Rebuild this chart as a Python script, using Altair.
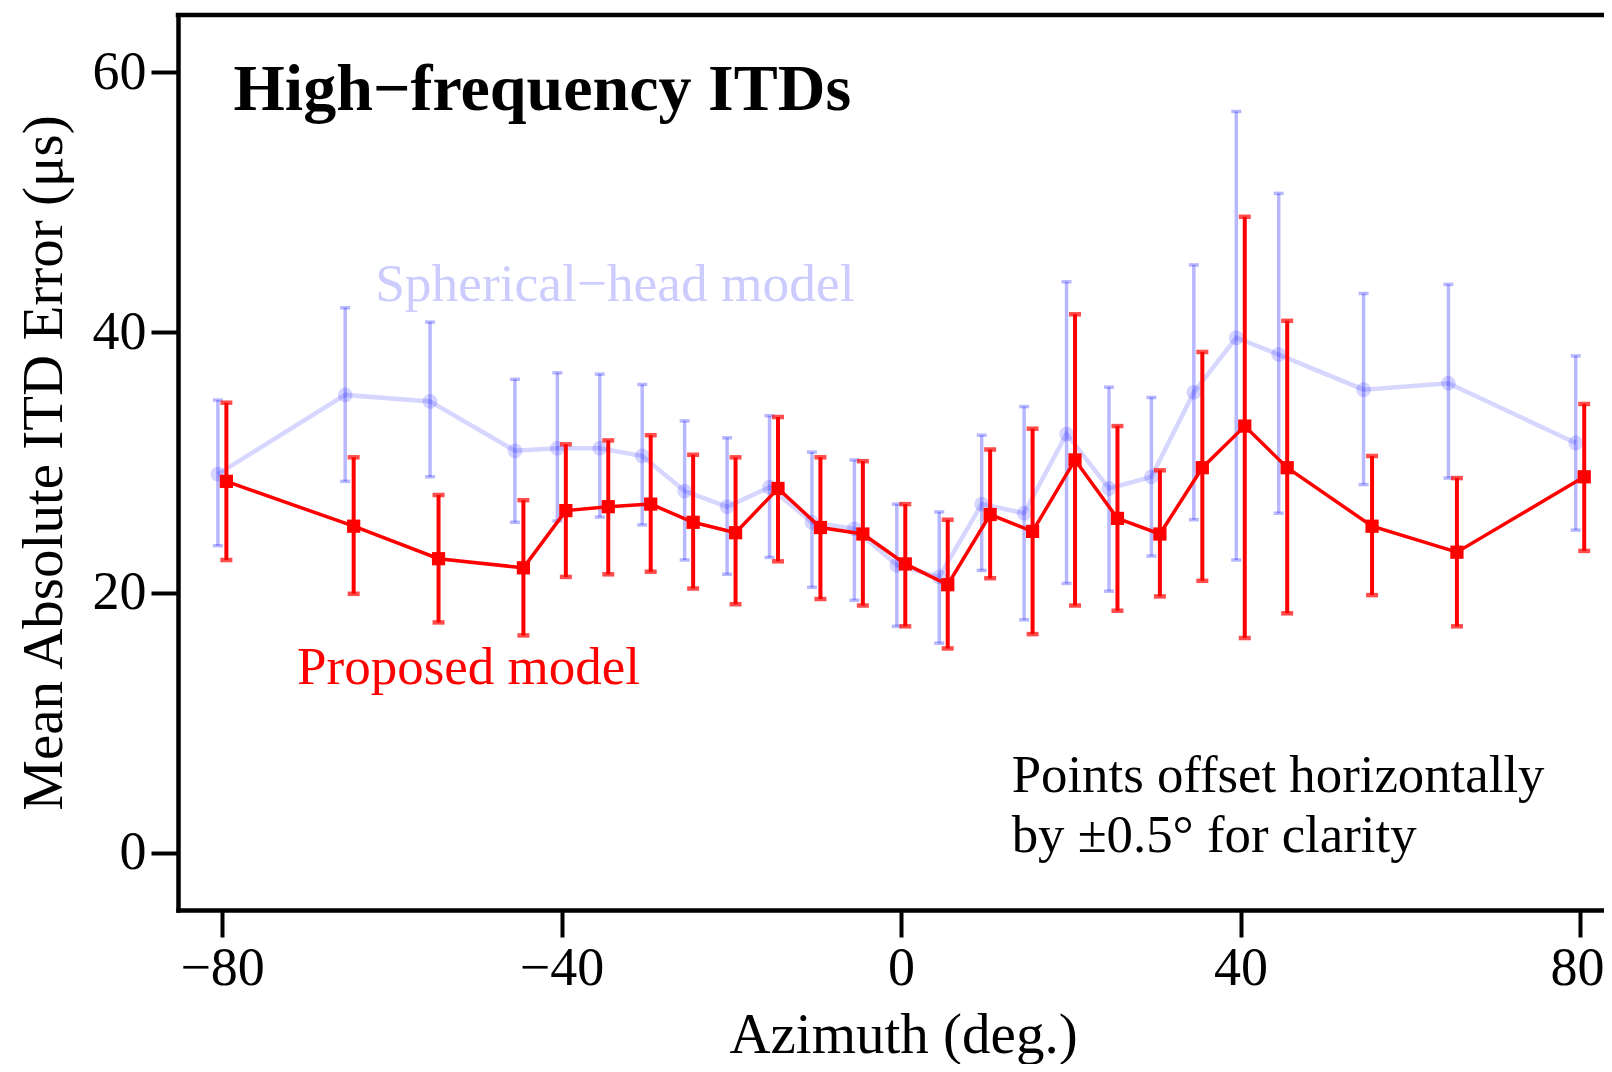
import altair as alt
import pandas as pd

# ---------------- data ----------------
azimuth = [-80, -65, -55, -45, -40, -35, -30, -25, -20, -15, -10, -5, 0,
           5, 10, 15, 20, 25, 30, 35, 40, 45, 55, 65, 80]

proposed_mean = [28.55, 25.1, 22.6, 21.9, 26.3, 26.6, 26.8, 25.4, 24.6, 28.0, 25.0, 24.5, 22.2,
                 20.6, 26.0, 24.7, 30.2, 25.7, 24.5, 29.6, 32.8, 29.6, 25.1, 23.1, 28.9]
proposed_upper = [34.6, 30.4, 27.5, 27.1, 31.4, 31.7, 32.1, 30.6, 30.4, 33.5, 30.4, 30.1, 26.8,
                  25.6, 31.0, 32.6, 41.4, 32.8, 29.4, 38.5, 48.9, 40.9, 30.5, 28.8, 34.5]
proposed_lower = [22.5, 19.9, 17.7, 16.7, 21.2, 21.4, 21.6, 20.3, 19.1, 22.4, 19.5, 19.0, 17.4,
                  15.7, 21.1, 16.8, 19.0, 18.6, 19.7, 20.9, 16.5, 18.4, 19.8, 17.4, 23.2]

spherical_mean = [29.1, 35.2, 34.7, 30.9, 31.1, 31.1, 30.5, 27.8, 26.6, 28.1, 25.4, 24.9, 22.1,
                  21.2, 26.8, 26.1, 32.2, 28.0, 28.9, 35.4, 39.6, 38.3, 35.6, 36.1, 31.5]
spherical_upper = [34.8, 41.9, 40.8, 36.4, 36.9, 36.8, 36.0, 33.2, 31.9, 33.6, 30.8, 30.2, 26.8,
                   26.2, 32.1, 34.3, 43.9, 35.8, 35.0, 45.2, 57.0, 50.7, 43.0, 43.7, 38.2]
spherical_lower = [23.6, 28.55, 28.9, 25.4, 25.5, 25.8, 25.2, 22.5, 21.4, 22.7, 20.4, 19.4, 17.4,
                   16.1, 21.7, 17.9, 20.7, 20.1, 22.8, 25.6, 22.5, 26.1, 28.3, 28.8, 24.8]

x_ticks = [-80, -40, 0, 40, 80]
y_ticks = [0, 20, 40, 60]

title_text = "High\u2212frequency ITDs"
label_spherical = "Spherical\u2212head model"
label_proposed = "Proposed model"
note_lines = ["Points offset horizontally", "by \u00b10.5\u00b0 for clarity"]

# ---------------- tables ----------------
prop = pd.DataFrame({"az": azimuth, "mean": proposed_mean,
                     "lo": proposed_lower, "hi": proposed_upper})
prop["x"] = prop["az"] + 0.5
sph = pd.DataFrame({"az": azimuth, "mean": spherical_mean,
                    "lo": spherical_lower, "hi": spherical_upper})
sph["x"] = sph["az"] - 0.5

W, H = 1426, 895
FONT = "Liberation Serif"
xs = alt.Scale(domain=[-85.2, 82.83], nice=False, zero=False)
ys = alt.Scale(domain=[-4.42, 64.42], nice=False, zero=False)

x_axis = alt.Axis(values=x_ticks, title="Azimuth (deg.)", grid=False,
                  labelFlush=30, labelFlushOffset=24,
                  titleX=725, titleY=142, titleAlign="center", titleBaseline="alphabetic")
y_axis = alt.Axis(values=y_ticks, title="Mean Absolute ITD Error (\u03bcs)", grid=False,
                  titleX=-117, titleY=H / 2, titleAngle=270, titleAlign="center",
                  titleBaseline="alphabetic")


def X(field="x"):
    return alt.X(f"{field}:Q", scale=xs, axis=x_axis)


def Y(field):
    return alt.Y(f"{field}:Q", scale=ys, axis=y_axis)


BLUE = "#0000ff"
RED = "#ff0000"

# spherical-head model (faint)
s_line = alt.Chart(sph).mark_line(color=BLUE, opacity=0.16, strokeWidth=4.5).encode(x=X(), y=Y("mean"))
s_rule = alt.Chart(sph).mark_rule(color=BLUE, opacity=0.28, strokeWidth=3.5).encode(
    x=X(), y=Y("lo"), y2="hi")
s_cap_hi = alt.Chart(sph).mark_tick(color=BLUE, opacity=0.28, orient="horizontal",
                                    size=10, thickness=3.5).encode(x=X(), y=Y("hi"))
s_cap_lo = alt.Chart(sph).mark_tick(color=BLUE, opacity=0.28, orient="horizontal",
                                    size=10, thickness=3.5).encode(x=X(), y=Y("lo"))
s_pts = alt.Chart(sph).mark_circle(color=BLUE, opacity=0.16, size=220).encode(x=X(), y=Y("mean"))

# proposed model
p_line = alt.Chart(prop).mark_line(color=RED, strokeWidth=3.5).encode(x=X(), y=Y("mean"))
p_rule = alt.Chart(prop).mark_rule(color=RED, strokeWidth=4).encode(x=X(), y=Y("lo"), y2="hi")
p_cap_hi = alt.Chart(prop).mark_tick(color=RED, orient="horizontal", size=12,
                                     thickness=4.5).encode(x=X(), y=Y("hi"))
p_cap_lo = alt.Chart(prop).mark_tick(color=RED, orient="horizontal", size=12,
                                     thickness=4.5).encode(x=X(), y=Y("lo"))
p_pts = alt.Chart(prop).mark_square(color=RED, opacity=1, size=175).encode(x=X(), y=Y("mean"))

# annotations
ann_title = alt.Chart(pd.DataFrame({"x": [-78.66], "y": [57.1], "t": [title_text]})).mark_text(
    font=FONT, fontSize=66, fontWeight="bold", align="left", baseline="alphabetic", color="black"
).encode(x=X(), y=Y("y"), text="t:N")

ann_sph = alt.Chart(pd.DataFrame({"x": [-61.97], "y": [42.4], "t": [label_spherical]})).mark_text(
    font=FONT, fontSize=53.4, align="left", baseline="alphabetic", color="#ccccff"
).encode(x=X(), y=Y("y"), text="t:N")

ann_prop = alt.Chart(pd.DataFrame({"x": [-71.17], "y": [12.98], "t": [label_proposed]})).mark_text(
    font=FONT, fontSize=53, align="left", baseline="alphabetic", color=RED
).encode(x=X(), y=Y("y"), text="t:N")

ann_note = alt.Chart(pd.DataFrame({"x": [13.03, 13.03], "y": [4.64, 0.03], "t": note_lines})).mark_text(
    font=FONT, fontSize=52.8, align="left", baseline="alphabetic", color="black"
).encode(x=X(), y=Y("y"), text="t:N")

# top frame line
top_line = alt.Chart(pd.DataFrame({"a": [0]})).mark_rule(
    color="black", strokeWidth=4.5, strokeCap="square"
).encode(x=alt.value(0), x2=alt.value(W), y=alt.value(0))

chart = alt.layer(
    s_line, s_rule, s_cap_hi, s_cap_lo, s_pts,
    p_line, p_rule, p_cap_hi, p_cap_lo, p_pts,
    ann_title, ann_sph, ann_prop, ann_note, top_line,
).properties(
    width=W, height=H,
    autosize=alt.AutoSizeParams(type="none"),
    padding={"left": 170, "top": 7, "right": 0, "bottom": 154},
    background="white",
).configure_view(
    stroke=None
).configure_axis(
    domainColor="black", domainWidth=4.5, domainCap="square",
    tickColor="black", tickWidth=4, tickSize=27,
    labelFont=FONT, labelFontSize=54, labelColor="black",
    titleFont=FONT, titleFontSize=57, titleFontWeight="normal", titleColor="black",
).configure_axisY(
    labelPadding=5
).configure_axisX(
    labelPadding=4
)

chart.save("out.html", embed_options={"renderer": "svg", "actions": False})
